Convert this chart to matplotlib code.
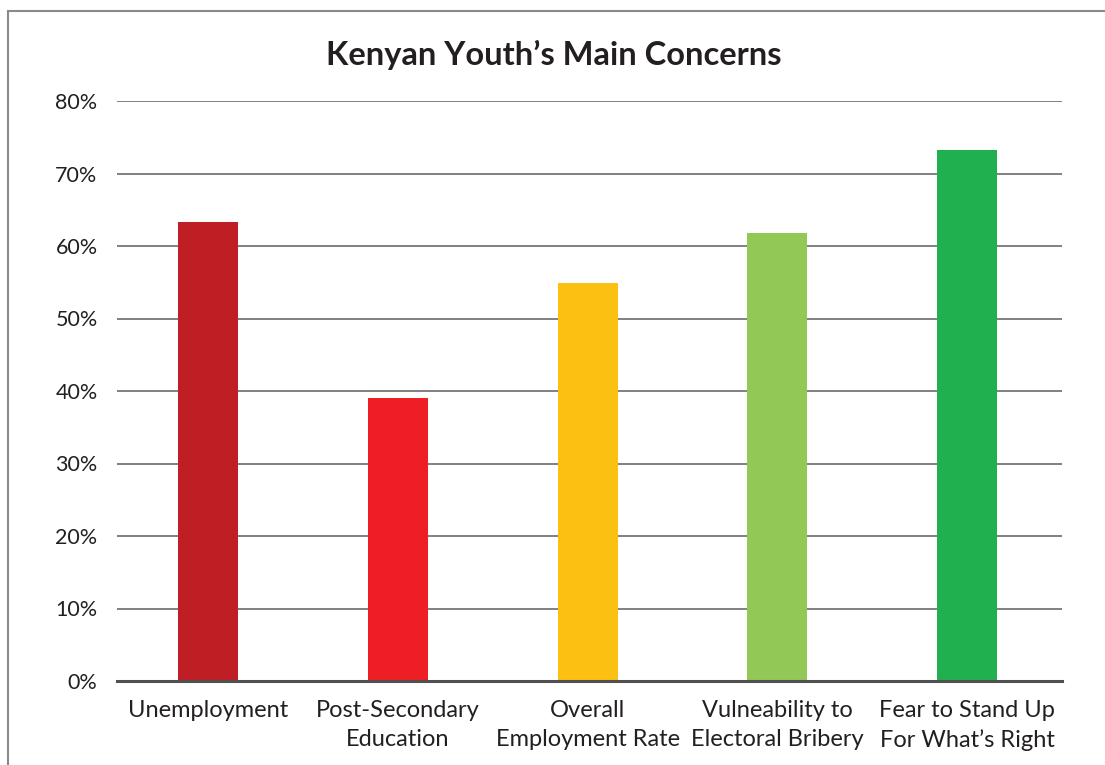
import matplotlib
matplotlib.use("Agg")
from matplotlib import pyplot as plt
from matplotlib.patches import Rectangle

plt.rcParams['font.family'] = ['Lato', 'DejaVu Sans']

# data
categories = ["Unemployment", "Post-Secondary\nEducation", "Overall\nEmployment Rate",
              "Vulneability to\nElectoral Bribery", "Fear to Stand Up\nFor What\u2019s Right"]
values = [63.3, 39.1, 54.9, 61.8, 73.2]
colors = ["#BE1E24", "#ED1F24", "#FBC012", "#92C855", "#21B04F"]
yticks = [0, 10, 20, 30, 40, 50, 60, 70, 80]

fig = plt.figure(figsize=(11.05, 7.65), dpi=100)
ax = fig.add_axes([117/1105, 1 - 681/765, (1062 - 117)/1105, (681 - 101)/765])

x = range(len(categories))
ax.bar(x, values, width=0.317, color=colors, zorder=3)

ax.set_xlim(-0.48, 4.5)
ax.set_ylim(0, 80)
ax.set_yticks(yticks)
ax.set_yticklabels([f"{t}%" for t in yticks])
ax.set_xticks(list(x))
ax.set_xticklabels(categories, linespacing=1.42, fontsize=17)

ax.grid(axis='y', color='#808080', linewidth=1.4, zorder=1)
ax.set_axisbelow(True)
for s in ['left', 'right', 'top']:
    ax.spines[s].set_visible(False)
ax.spines['bottom'].set_color('#505050')
ax.spines['bottom'].set_linewidth(2.2)
ax.spines['bottom'].set_zorder(4)
ax.tick_params(axis='both', length=0, colors='#231F20')
ax.tick_params(axis='y', labelsize=15.5, pad=14)
ax.tick_params(axis='x', pad=14)

fig.text(0.501, 0.928, "Kenyan Youth\u2019s Main Concerns", ha='center', va='center',
         fontsize=23.5, fontweight='bold', color='#231F20')

# frame around the chart
fig.patches.append(Rectangle((8/1105, -0.1), 1.2, 1.1 - 11/765, transform=fig.transFigure,
                             fill=False, edgecolor='#8a8a8a', linewidth=1.5))

fig.savefig("out.png", dpi=100)
